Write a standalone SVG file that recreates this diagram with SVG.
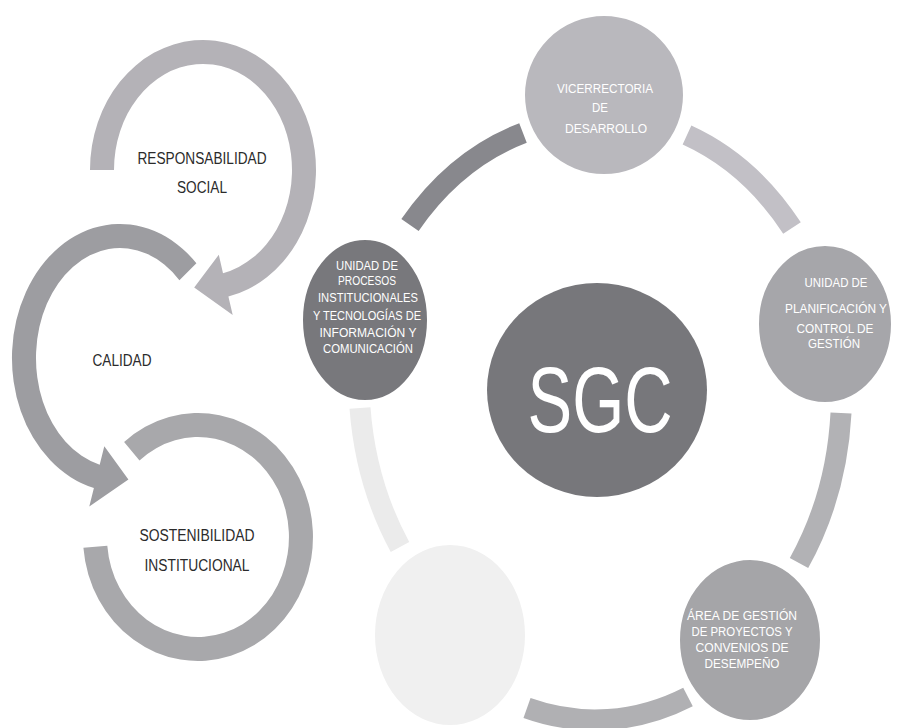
<svg xmlns="http://www.w3.org/2000/svg" width="905" height="728" viewBox="0 0 905 728">
  <style>
    .lbl { font-family: "Liberation Sans Narrow", "Liberation Sans", Arial, sans-serif; font-size: 16px; fill: #2b2b2b; text-anchor: middle; }
    .nt { font-family: "Liberation Sans Narrow", "Liberation Sans", Arial, sans-serif; font-size: 12.5px; fill: #ffffff; text-anchor: middle; }
    .big { font-family: "Liberation Sans", Arial, sans-serif; font-size: 92px; fill: #ffffff; text-anchor: middle; }
    .seg { fill: none; stroke-width: 21; }
    .node { stroke: #ffffff; stroke-width: 4; }
  </style>
  <rect x="0" y="0" width="905" height="728" fill="#ffffff"/>

  <!-- Left column: three circular arrows -->
  <g id="responsabilidad-social">
    <path d="M 90 170 A 113 130 0 1 1 228.4 296.6 L 232.7 315.1 L 194.2 287.5 L 218.8 254.7 L 223 273.2 A 89 106 0 1 0 114 170 Z" fill="#b4b2b7"/>
    <text class="lbl" x="202" y="164" textLength="129" lengthAdjust="spacingAndGlyphs">RESPONSABILIDAD</text>
    <text class="lbl" x="202" y="193" textLength="50" lengthAdjust="spacingAndGlyphs">SOCIAL</text>
  </g>
  <g id="calidad">
    <path d="M 196.4 263.3 A 108 134 0 1 0 93.9 488 L 89.3 506.4 L 128.4 479.5 L 104.3 446.3 L 99.7 464.7 A 84 110 0 1 1 179.4 280.2 Z" fill="#9d9da1"/>
    <text class="lbl" x="122" y="366" textLength="59" lengthAdjust="spacingAndGlyphs">CALIDAD</text>
  </g>
  <g id="sostenibilidad-institucional">
    <path d="M 124.1 442 A 115 124 0 1 1 83.4 547.8 L 107.3 545.7 A 91 100 0 1 0 139.5 460.4 Z" fill="#a8a8ab"/>
    <text class="lbl" x="197" y="541" textLength="115" lengthAdjust="spacingAndGlyphs">SOSTENIBILIDAD</text>
    <text class="lbl" x="197" y="571" textLength="105" lengthAdjust="spacingAndGlyphs">INSTITUCIONAL</text>
  </g>

  <!-- Ring connectors between the SGC units -->
  <g id="connectors">
    <path class="seg" d="M 410 225 A 243 300 0 0 1 523 133" stroke="#88888d"/>
    <path class="seg" d="M 687 135 A 243 300 0 0 1 792 228" stroke="#c2c0c6"/>
    <path class="seg" d="M 841 413 A 243 300 0 0 1 799 563" stroke="#b2b2b5"/>
    <path class="seg" d="M 688 697 A 243 300 0 0 1 527 708" stroke="#b0b0b3"/>
    <path class="seg" d="M 400 547 A 243 300 0 0 1 360 408" stroke="#ebebeb"/>
  </g>

  <g id="vicerrectoria">
    <ellipse class="node" cx="604" cy="95" rx="81" ry="81" fill="#b9b8bd"/>
    <text class="nt" x="605" y="93" textLength="96" lengthAdjust="spacingAndGlyphs">VICERRECTORIA</text>
    <text class="nt" x="600" y="112" textLength="16" lengthAdjust="spacingAndGlyphs">DE</text>
    <text class="nt" x="606" y="133" textLength="82" lengthAdjust="spacingAndGlyphs">DESARROLLO</text>
  </g>

  <g id="planificacion">
    <ellipse class="node" cx="825" cy="324" rx="68" ry="80" fill="#a6a6aa"/>
    <text class="nt" x="836" y="287" textLength="63" lengthAdjust="spacingAndGlyphs">UNIDAD DE</text>
    <text class="nt" x="836" y="313" textLength="102" lengthAdjust="spacingAndGlyphs">PLANIFICACIÓN Y</text>
    <text class="nt" x="835" y="333" textLength="77" lengthAdjust="spacingAndGlyphs">CONTROL DE</text>
    <text class="nt" x="834" y="348" textLength="52" lengthAdjust="spacingAndGlyphs">GESTIÓN</text>
  </g>

  <g id="proyectos">
    <ellipse class="node" cx="750" cy="640" rx="72" ry="82" fill="#a5a5a8"/>
    <text class="nt" x="742" y="620" textLength="110" lengthAdjust="spacingAndGlyphs">ÁREA DE GESTIÓN</text>
    <text class="nt" x="742" y="636" textLength="101" lengthAdjust="spacingAndGlyphs">DE PROYECTOS Y</text>
    <text class="nt" x="742" y="652" textLength="93" lengthAdjust="spacingAndGlyphs">CONVENIOS DE</text>
    <text class="nt" x="742" y="668" textLength="75" lengthAdjust="spacingAndGlyphs">DESEMPEÑO</text>
  </g>

  <g id="unidad-vacia">
    <ellipse class="node" cx="450" cy="635" rx="77" ry="92" fill="#f0f0f0"/>
  </g>

  <g id="procesos">
    <ellipse class="node" cx="365" cy="320" rx="64" ry="82" fill="#78787c"/>
    <text class="nt" x="367" y="270" textLength="62" lengthAdjust="spacingAndGlyphs">UNIDAD DE</text>
    <text class="nt" x="367" y="285" textLength="58" lengthAdjust="spacingAndGlyphs">PROCESOS</text>
    <text class="nt" x="368" y="302" textLength="100" lengthAdjust="spacingAndGlyphs">INSTITUCIONALES</text>
    <text class="nt" x="367" y="320" textLength="108" lengthAdjust="spacingAndGlyphs">Y TECNOLOGÍAS DE</text>
    <text class="nt" x="368" y="337" textLength="97" lengthAdjust="spacingAndGlyphs">INFORMACIÓN Y</text>
    <text class="nt" x="368" y="353" textLength="90" lengthAdjust="spacingAndGlyphs">COMUNICACIÓN</text>
  </g>

  <g id="sgc">
    <ellipse cx="597" cy="390" rx="110" ry="107" fill="#77777b"/>
    <text class="big" x="600" y="432" textLength="145" lengthAdjust="spacingAndGlyphs">SGC</text>
  </g>
</svg>
